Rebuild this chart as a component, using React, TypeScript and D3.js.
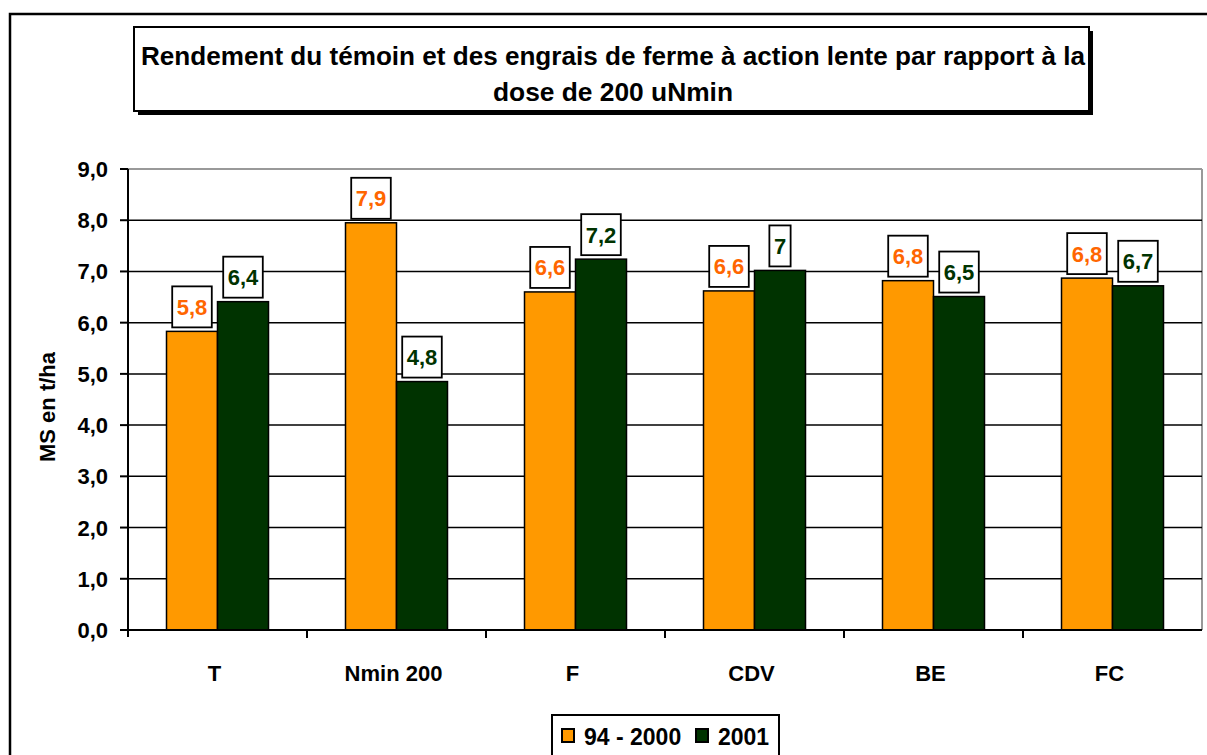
import React from "react";
import * as d3 from "d3";

const categories = ["T", "Nmin 200", "F", "CDV", "BE", "FC"];
const seriesNames = ["94 - 2000", "2001"];
const values9400 = [5.83, 7.95, 6.6, 6.62, 6.82, 6.87];
const values2001 = [6.41, 4.85, 7.24, 7.02, 6.51, 6.72];
const labels9400 = ["5,8", "7,9", "6,6", "6,6", "6,8", "6,8"];
const labels2001 = ["6,4", "4,8", "7,2", "7", "6,5", "6,7"];
const yTicks = [0, 1, 2, 3, 4, 5, 6, 7, 8, 9];
const barColors = ["#FF9900", "#003300"];
const labelColors = ["#FF6600", "#003300"];

const FONT = "'Liberation Sans', Arial, sans-serif";

function textW(s: string, fs: number) {
  let w = 0;
  for (const c of s) w += c === "," ? 0.278 : 0.556;
  return w * fs;
}

export default function App() {
  const W = 1207, H = 755;
  const left = 128, right = 1202, top = 169, bottom = 630;
  const x0 = d3.scaleBand<string>().domain(categories).range([left, right]).padding(0);
  const groupW = 102;
  const x1 = d3.scaleBand<string>().domain(seriesNames).range([0, groupW]).padding(0);
  const y = d3.scaleLinear().domain([0, 9]).range([bottom, top]);
  const series = [
    { name: seriesNames[0], vals: values9400, labels: labels9400 },
    { name: seriesNames[1], vals: values2001, labels: labels2001 },
  ];
  const fs = 22;

  return (
    <div style={{ position: "absolute", left: 0, top: 0 }}>
      <svg width={W} height={H} style={{ display: "block" }} fontFamily={FONT}>
        <rect x={0} y={0} width={W} height={H} fill="#fff" />
        {/* outer frame */}
        <rect x={10} y={14} width={1220} height={800} fill="none" stroke="#000" strokeWidth={2.5} />
        {/* title box */}
        <rect x={138} y={31} width={955} height={84} fill="#000" />
        <rect x={134} y={27} width={955} height={84} fill="#fff" stroke="#000" strokeWidth={2} />
        <text x={613} y={65} textAnchor="middle" fontSize={25} fontWeight="bold" textLength={944} lengthAdjust="spacingAndGlyphs">
          Rendement du témoin et des engrais de ferme à action lente par rapport à la
        </text>
        <text x={613} y={101} textAnchor="middle" fontSize={25} fontWeight="bold" textLength={240} lengthAdjust="spacingAndGlyphs">
          dose de 200 uNmin
        </text>
        {/* plot border */}
        <line x1={left} x2={right} y1={top} y2={top} stroke="#999" strokeWidth={2} />
        <line x1={right} x2={right} y1={top} y2={bottom} stroke="#999" strokeWidth={2} />
        {/* gridlines */}
        {yTicks.filter(t => t > 0 && t < 9).map(t => (
          <line key={t} x1={left} x2={right} y1={y(t)} y2={y(t)} stroke="#000" strokeWidth={1.5} />
        ))}
        {/* bars */}
        {series.map((s, si) => (
          <g key={s.name}>
            {categories.map((c, i) => {
              const bx = (x0(c) as number) + (x0.bandwidth() - groupW) / 2 + (x1(s.name) as number);
              return (
                <rect key={c} x={bx} y={y(s.vals[i])} width={x1.bandwidth()} height={bottom - y(s.vals[i])}
                  fill={barColors[si]} stroke="#000" strokeWidth={1.5} />
              );
            })}
          </g>
        ))}
        {/* labels */}
        {series.map((s, si) => (
          <g key={s.name + "l"}>
            {categories.map((c, i) => {
              const cx = (x0(c) as number) + (x0.bandwidth() - groupW) / 2 + (x1(s.name) as number) + x1.bandwidth() / 2;
              const tw = textW(s.labels[i], fs);
              const bw = tw + 9;
              const bh = 41;
              const by = y(s.vals[i]) - 4 - bh;
              return (
                <g key={c}>
                  <rect x={cx - bw / 2} y={by} width={bw} height={bh} fill="#fff" stroke="#000" strokeWidth={1.8} />
                  <text x={cx} y={by + bh / 2 + 8} textAnchor="middle" fontSize={fs} fontWeight="bold" fill={labelColors[si]}>
                    {s.labels[i]}
                  </text>
                </g>
              );
            })}
          </g>
        ))}
        {/* axes */}
        <line x1={left} x2={left} y1={top} y2={bottom + 7} stroke="#000" strokeWidth={2} />
        <line x1={left} x2={right} y1={bottom} y2={bottom} stroke="#000" strokeWidth={2} />
        {yTicks.map(t => (
          <g key={"t" + t}>
            <line x1={left - 8} x2={left} y1={y(t)} y2={y(t)} stroke="#000" strokeWidth={2} />
            <text x={108} y={y(t) + 8} textAnchor="end" fontSize={fs} fontWeight="bold">
              {d3.format(".1f")(t).replace(".", ",")}
            </text>
          </g>
        ))}
        {categories.map((c, i) => (
          <g key={"c" + c}>
            {i > 0 && <line x1={x0(c)} x2={x0(c)} y1={bottom} y2={bottom + 8} stroke="#000" strokeWidth={2} />}
            <text x={(x0(c) as number) + x0.bandwidth() / 2 - 3} y={681} textAnchor="middle" fontSize={fs} fontWeight="bold">
              {c}
            </text>
          </g>
        ))}
        <text transform={`translate(55,407) rotate(-90)`} textAnchor="middle" fontSize={fs} fontWeight="bold">
          MS en t/ha
        </text>
        {/* legend */}
        <rect x={552} y={715} width={227} height={50} fill="#fff" stroke="#000" strokeWidth={2} />
        {series.map((s, si) => {
          const lx = si === 0 ? 562 : 696;
          return (
            <g key={"lg" + s.name}>
              <rect x={lx} y={729} width={12} height={13} fill={barColors[si]} stroke="#000" strokeWidth={2} />
              <text x={lx + 22} y={745} fontSize={23} fontWeight="bold">{s.name}</text>
            </g>
          );
        })}
      </svg>
    </div>
  );
}
